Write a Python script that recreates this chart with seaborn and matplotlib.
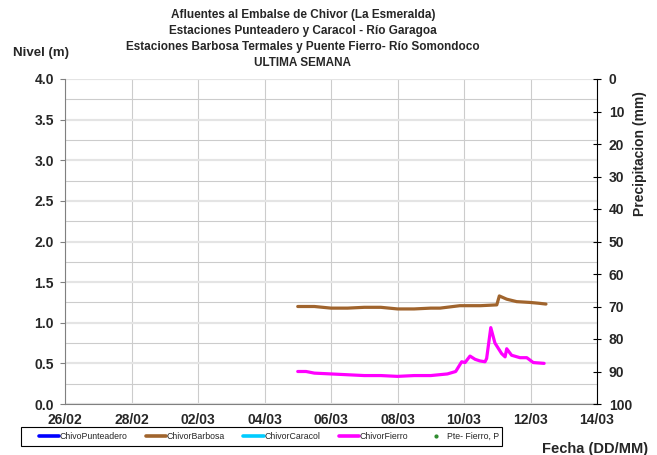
import matplotlib
matplotlib.use("Agg")
import matplotlib.pyplot as plt
import matplotlib.dates as mdates
from matplotlib.lines import Line2D
from matplotlib.patches import Rectangle
import seaborn as sns
import pandas as pd
import numpy as np

sns.set_style("white")
plt.rcParams['font.family'] = ['Liberation Sans', 'DejaVu Sans']

# ---- data ----
barbosa_time = ["2025-03-05 00:00", "2025-03-05 12:00", "2025-03-06 00:00", "2025-03-06 12:00",
                "2025-03-07 00:00", "2025-03-07 12:00", "2025-03-08 00:00", "2025-03-08 12:00",
                "2025-03-09 00:00", "2025-03-09 06:45", "2025-03-09 21:00", "2025-03-10 12:00",
                "2025-03-10 23:40", "2025-03-11 01:30", "2025-03-11 06:50", "2025-03-11 14:00",
                "2025-03-11 23:40", "2025-03-12 06:00", "2025-03-12 11:10"]
barbosa_level = [1.20, 1.20, 1.18, 1.18, 1.19, 1.19, 1.17, 1.17,
                 1.18, 1.18, 1.21, 1.21, 1.22, 1.33, 1.29, 1.26,
                 1.25, 1.24, 1.23]

fierro_time = ["2025-03-05 00:00", "2025-03-05 06:00", "2025-03-05 12:00", "2025-03-06 00:00",
               "2025-03-06 12:00", "2025-03-07 00:00", "2025-03-07 12:00", "2025-03-08 00:00",
               "2025-03-08 12:00", "2025-03-09 00:00", "2025-03-09 12:00", "2025-03-09 18:00",
               "2025-03-09 22:20", "2025-03-10 00:45", "2025-03-10 04:20", "2025-03-10 08:00",
               "2025-03-10 11:30", "2025-03-10 15:10", "2025-03-10 16:20", "2025-03-10 19:20",
               "2025-03-10 22:20", "2025-03-11 03:10", "2025-03-11 05:40", "2025-03-11 06:50",
               "2025-03-11 10:20", "2025-03-11 16:25", "2025-03-11 21:20", "2025-03-12 02:00",
               "2025-03-12 09:50"]
fierro_level = [0.40, 0.40, 0.38, 0.37, 0.36, 0.35, 0.35, 0.34,
                0.35, 0.35, 0.37, 0.40, 0.52, 0.51, 0.59, 0.55,
                0.53, 0.52, 0.56, 0.94, 0.75, 0.62, 0.58, 0.68,
                0.60, 0.57, 0.57, 0.51, 0.50]

series_names = ["ChivoPunteadero", "ChivorBarbosa", "ChivorCaracol", "ChivorFierro", "Pte- Fierro, P"]
series_colors = ["#0000ff", "#a0642d", "#00ccff", "#ff00ff", "#2e8b2e"]

title_lines = ["Afluentes al Embalse de Chivor (La Esmeralda)",
               "Estaciones Punteadero y Caracol - Río Garagoa",
               "Estaciones Barbosa Termales y Puente Fierro- Río Somondoco",
               "ULTIMA SEMANA"]

df = pd.concat([
    pd.DataFrame({"fecha": pd.to_datetime(barbosa_time), "nivel": barbosa_level, "serie": "ChivorBarbosa"}),
    pd.DataFrame({"fecha": pd.to_datetime(fierro_time), "nivel": fierro_level, "serie": "ChivorFierro"}),
])

fig = plt.figure(figsize=(6.57, 4.55), dpi=100)
ax = fig.add_axes([65/657, 1-404/455, (597-65)/657, (404-79)/455])

sns.lineplot(data=df, x="fecha", y="nivel", hue="serie",
             palette={"ChivorBarbosa": series_colors[1], "ChivorFierro": series_colors[3]},
             linewidth=2.3, ax=ax, legend=False)

ax.set_xlim(pd.Timestamp("2025-02-26"), pd.Timestamp("2025-03-14"))
ax.set_ylim(0, 4)
ticks = pd.date_range("2025-02-26", "2025-03-14", freq="2D")
ax.set_xticks(ticks)
ax.xaxis.set_major_formatter(mdates.DateFormatter("%d/%m"))
ax.set_yticks(np.arange(0, 4.01, 0.5))
ax.set_yticks(np.arange(0.25, 4, 0.5), minor=True)
ax.yaxis.set_major_formatter(matplotlib.ticker.FormatStrFormatter("%.1f"))
ax.set_xlabel("")
ax.set_ylabel("")
ax.grid(True, which="major", axis="y", color="#e4e4e4", linewidth=1.6)
ax.grid(True, which="minor", axis="y", color="#cccccc", linewidth=0.8)
ax.grid(True, which="major", axis="x", color="#cccccc", linewidth=0.8)
ax.set_axisbelow(True)
for s in ["top", "right"]:
    ax.spines[s].set_visible(False)
ax.spines["left"].set_color("#808080")
ax.spines["bottom"].set_color("#808080")
ax.tick_params(axis="y", which="major", direction="out", length=3.6, color="#808080",
               labelsize=10, pad=4.3)
ax.tick_params(axis="y", which="minor", length=0)
ax.tick_params(axis="x", direction="out", length=0, labelsize=10, pad=6.5)
for lab in ax.get_xticklabels() + ax.get_yticklabels():
    lab.set_fontweight("bold")

ax2 = ax.twinx()
ax2.set_ylim(100, 0)
ax2.set_yticks(np.arange(0, 101, 10))
ax2.tick_params(axis="y", direction="inout", length=6, labelsize=10, pad=5.5, color="black")
for s in ["top", "left", "bottom"]:
    ax2.spines[s].set_visible(False)
ax2.spines["right"].set_color("black")
for lab in ax2.get_yticklabels():
    lab.set_fontweight("bold")

for i, t in enumerate(title_lines):
    fig.text(303/657, 1-(15+i*16.0)/455, t, ha="center", va="center",
             fontsize=8.5, fontweight="bold")
fig.text(41/657, 1-53/455, "Nivel (m)", ha="center", va="center", fontsize=9.5, fontweight="bold")
fig.text(640/657, 1-154/455, "Precipitacion (mm)", ha="center", va="center", rotation=90,
         fontsize=10, fontweight="bold")
fig.text(595/657, 1-449/455, "Fecha (DD/MM)", ha="center", va="center", fontsize=10.5, fontweight="bold")

# legend frame
fig.patches.append(Rectangle((21/657, 1-446/455), (502-21)/657, 19/455,
                             transform=fig.transFigure, facecolor="white",
                             edgecolor="black", linewidth=0.8, zorder=2))
handles = []
for name, col in zip(series_names, series_colors):
    if name.startswith("Pte"):
        handles.append(Line2D([], [], color=col, marker="o", markersize=2, linestyle="none"))
    else:
        handles.append(Line2D([], [], color=col, linewidth=2.6))
leg = fig.legend(handles, series_names, loc="center", ncol=5, mode="expand",
                 bbox_to_anchor=(39/657, 1-446/455, (499-39)/657, 19/455),
                 fontsize=6.3, frameon=False, handlelength=2.3,
                 handletextpad=0.05, borderaxespad=0, borderpad=0)
leg.set_zorder(3)

fig.savefig("out.png", dpi=100)
